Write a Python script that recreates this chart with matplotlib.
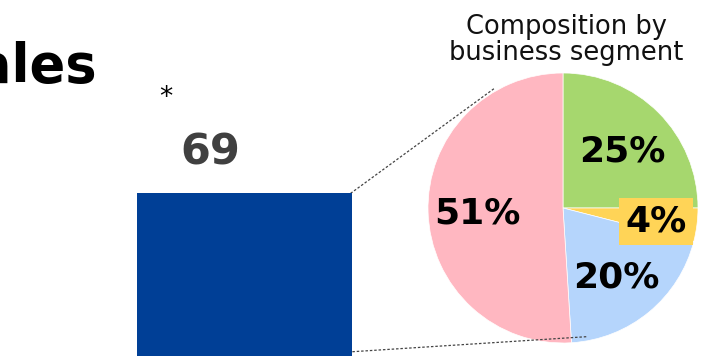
import matplotlib.pyplot as plt
import numpy as np

# sales total and its breakdown by business segment
sales_value = 69
segment_shares = [25, 4, 20, 51]
segment_colors = ["#A6D76E", "#FFD457", "#B5D5FC", "#FFB7C1"]

W, H = 715, 356
fig = plt.figure(figsize=(W / 100, H / 100), dpi=100)

# pixel-space axes for the pie and annotations (y measured upward)
ax = fig.add_axes([0, 0, 1, 1])
pc = (563, H - 208)
pr = 135
wedges, _ = ax.pie(segment_shares, colors=segment_colors, startangle=90,
                   counterclock=False, center=pc, radius=pr,
                   wedgeprops=dict(edgecolor="white", linewidth=0.5))
ax.set_xlim(0, W)
ax.set_ylim(0, H)
ax.set_aspect("auto")
ax.axis("off")

# bar axes on top, same rectangle; y range chosen so the bar top sits at 193 px
bax = fig.add_axes([0, 0, 1, 1], facecolor="none")
bar_top_px = 193
bax.set_xlim(0, W)
bax.set_ylim(0, sales_value * H / (H - bar_top_px))
bax.bar([244.5], [sales_value], width=215, color="#003F96")
bax.text(210, sales_value + 17, str(sales_value), ha="center", va="center",
         fontsize=31, fontweight="bold", color="#404040")
bax.axis("off")

# dotted connectors from the bar corners to the pie edge
def on_pie(deg, r):
    a = np.deg2rad(deg)
    return pc[0] + r * np.cos(a), pc[1] + r * np.sin(a)

for (x0, y0), deg, r in [((347, H - 196), 119.5, 138), ((348, H - 352), -79, 131)]:
    x1, y1 = on_pie(deg, r)
    ax.plot([x0, x1], [y0, y1], color="#444444", linewidth=0.9,
            linestyle=(0, (2, 1.5)), zorder=5)

# percentage labels
labels = [f"{v}%" for v in segment_shares]
label_pos = [(622, 152), (656, 221), (616, 277), (477, 213)]
for lab, (lx, ly) in zip(labels, label_pos):
    kw = {}
    if lab == "4%":
        kw["bbox"] = dict(boxstyle="square,pad=0.18", facecolor="#FFD457",
                          edgecolor="none")
    ax.text(lx, H - ly, lab, ha="center", va="center", fontsize=26,
            fontweight="bold", color="black", zorder=6, **kw)

ax.text(566, H - 40, "Composition by\nbusiness segment", ha="center",
        va="center", fontsize=18.5, linespacing=1.02, color="#111111")

ax.text(97, H - 82, "Sales", ha="right", va="baseline", fontsize=38,
        fontweight="bold", color="black")
ax.text(166, H - 98, "*", ha="center", va="center", fontsize=19, color="black")

fig.savefig("out.png", dpi=100)
